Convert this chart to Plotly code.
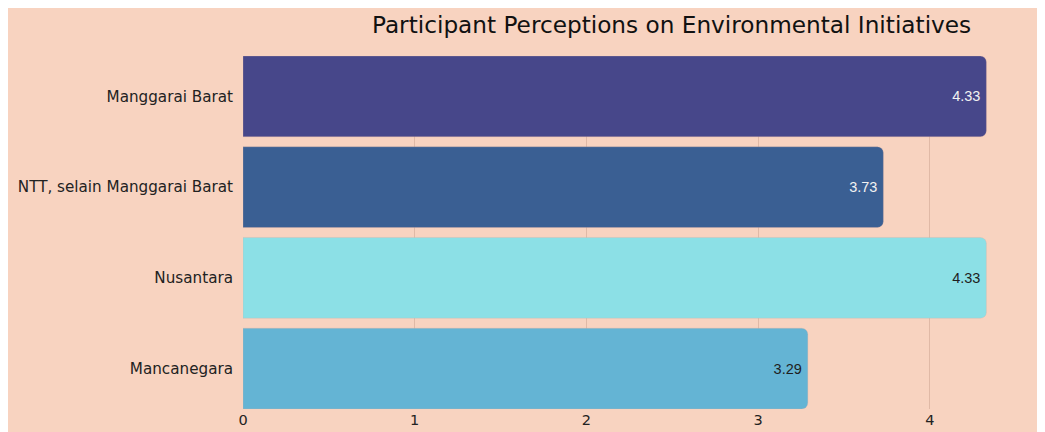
import plotly.graph_objects as go

categories = ["Manggarai Barat", "NTT, selain Manggarai Barat", "Nusantara", "Mancanegara"]
values = [4.33, 3.73, 4.33, 3.29]
bar_colors = ["#47478A", "#3A5F93", "#8CE0E6", "#64B4D4"]
text_colors = ["#F2F2F2", "#F2F2F2", "#1E1E1E", "#1E1E1E"]
x_ticks = [0, 1, 2, 3, 4]

bargap = 0.11
half = (1 - bargap) / 2

fig = go.Figure(go.Bar(
    y=categories,
    x=values,
    orientation="h",
    marker=dict(color=bar_colors, cornerradius=6, line=dict(color="rgba(217,175,160,0.6)", width=0.5)),
    text=[f"{v:.2f}" for v in values],
    textposition="inside",
    insidetextanchor="end",
    textfont=dict(family="Liberation Sans, Arial", size=14.5, color=text_colors),
    hoverinfo="skip",
))

fig.update_layout(
    width=1045, height=432,
    paper_bgcolor="#F8D3C0",
    plot_bgcolor="#F8D3C0",
    margin=dict(l=235, r=46, t=48, b=31),
    bargap=bargap,
    showlegend=False,
    font=dict(family="DejaVu Sans, sans-serif", color="#222222", size=14),
    title=dict(
        text="Participant Perceptions on Environmental Initiatives",
        x=0.635, xanchor="center", y=0.962, yanchor="middle",
        font=dict(size=23.2, color="#111111", family="DejaVu Sans, sans-serif"),
    ),
    xaxis=dict(
        range=[0, 4.45],
        tickvals=x_ticks,
        showgrid=True, gridcolor="#E0B9A6", gridwidth=1,
        zeroline=False, showline=False, ticks="",
        automargin=False,
        tickfont=dict(size=14.5, color="#222222"),
    ),
    yaxis=dict(
        categoryorder="array", categoryarray=categories[::-1],
        range=[-half, len(categories) - 1 + half],
        showgrid=False, zeroline=False, showline=False, ticks="",
        automargin=False,
        ticklabelstandoff=9,
        tickfont=dict(size=15.2, color="#222222"),
    ),
)

fig.write_html("out.html")
